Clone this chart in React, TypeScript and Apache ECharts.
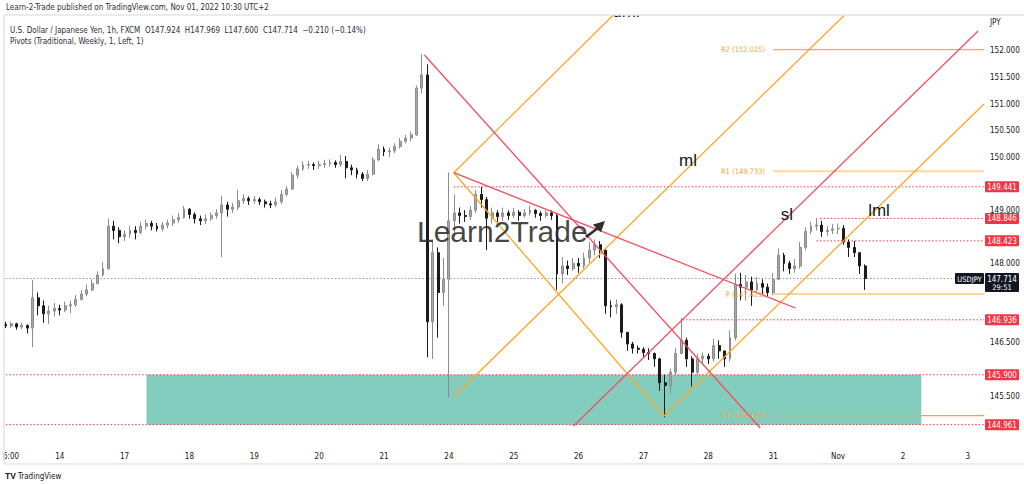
import React, { useEffect, useRef } from 'react';
import * as echarts from 'echarts';

// ---- Candles (2-hour bars, trading hours counted from Oct 13 00:00, weekends removed) ----
const startHour = 4;
const endHour = 366;
const barHours = 2;

const closes = [
  146.82, 146.86, 146.80, 146.83, 146.78, 147.35, 147.20, 147.05, 147.10, 147.15,
  147.12, 147.20, 147.22, 147.32, 147.42, 147.50, 147.62, 147.78, 147.90, 148.70,
  148.62, 148.50, 148.55, 148.62, 148.58, 148.70, 148.75, 148.70, 148.65, 148.72,
  148.76, 148.82, 148.86, 149.02, 148.92, 148.84, 148.80, 148.84, 148.90, 148.95,
  149.10, 149.02, 149.06, 149.18, 149.22, 149.18, 149.20, 149.16, 149.12, 149.10,
  149.16, 149.30, 149.40, 149.66, 149.78, 149.85, 149.86, 149.84, 149.86, 149.88,
  149.90, 149.86, 149.92, 149.80, 149.76, 149.68, 149.60, 149.68, 149.95, 150.15,
  150.10, 150.12, 150.20, 150.30, 150.36, 150.42, 151.30, 151.55, 146.90, 148.20,
  147.45, 147.70, 148.80, 148.95, 148.90, 148.88, 149.00, 149.30, 149.20, 148.85,
  148.95, 148.88, 148.95, 148.90, 148.96, 148.90, 148.95, 149.00, 148.94, 148.90,
  148.95, 148.90, 147.80, 147.95, 147.90, 148.00, 147.95, 148.10, 148.25, 148.35,
  148.25, 147.20, 147.18, 147.22, 146.70, 146.48, 146.40, 146.38, 146.32, 146.30,
  146.20, 145.75, 145.70, 145.95, 146.30, 146.55, 146.20, 145.95, 146.20, 146.25,
  146.20, 146.45, 146.35, 146.20, 146.60, 147.60, 147.55, 147.65, 147.50, 147.62,
  147.55, 147.45, 147.70, 148.15, 148.00, 147.90, 147.95, 148.30, 148.60, 148.70,
  148.72, 148.60, 148.62, 148.65, 148.66, 148.40, 148.30, 148.20, 147.95, 147.714,
];
const highs = [
  146.90, 146.90, 146.88, 146.88, 146.85, 147.69, 147.45, 147.30, 147.20, 147.25,
  147.22, 147.28, 147.30, 147.40, 147.50, 147.60, 147.70, 147.85, 148.02, 148.84,
  148.80, 148.68, 148.62, 148.70, 148.70, 148.78, 148.82, 148.80, 148.76, 148.78,
  148.82, 148.90, 148.95, 149.08, 149.04, 148.96, 148.90, 148.92, 148.96, 149.02,
  149.27, 149.16, 149.14, 149.38, 149.30, 149.26, 149.27, 149.24, 149.20, 149.18,
  149.24, 149.38, 149.46, 149.72, 149.84, 149.92, 149.93, 149.90, 149.93, 149.95,
  149.96, 149.94, 150.04, 150.02, 149.86, 149.80, 149.72, 149.76, 150.00, 150.24,
  150.20, 150.18, 150.26, 150.36, 150.42, 150.48, 151.35, 151.94, 151.75, 148.45,
  148.30, 148.10, 149.71, 149.30, 149.05, 149.00, 149.08, 149.38, 149.44, 149.25,
  149.05, 149.00, 149.05, 149.00, 149.04, 149.00, 149.02, 149.08, 149.02, 148.98,
  149.00, 149.00, 148.95, 148.12, 148.05, 148.10, 148.10, 148.20, 148.40, 148.45,
  148.42, 148.25, 147.30, 147.32, 147.25, 146.70, 146.52, 146.45, 146.42, 146.40,
  146.32, 146.22, 145.90, 146.02, 146.40, 146.97, 146.60, 146.25, 146.30, 146.32,
  146.30, 146.58, 146.55, 146.35, 146.74, 147.80, 147.82, 147.78, 147.75, 147.74,
  147.70, 147.62, 147.82, 148.28, 148.20, 148.05, 148.08, 148.40, 148.68, 148.78,
  148.85, 148.80, 148.70, 148.74, 148.75, 148.72, 148.45, 148.42, 148.20, 147.98,
];
const lows = [
  146.78, 146.78, 146.75, 146.76, 146.68, 146.42, 147.02, 146.88, 146.86, 147.00,
  147.02, 147.08, 147.06, 147.18, 147.30, 147.38, 147.48, 147.60, 147.75, 147.88,
  148.45, 148.38, 148.42, 148.48, 148.45, 148.55, 148.64, 148.62, 148.60, 148.60,
  148.66, 148.70, 148.76, 148.84, 148.84, 148.75, 148.72, 148.74, 148.80, 148.84,
  148.12, 148.88, 148.95, 149.00, 149.12, 149.10, 149.12, 149.10, 149.05, 149.04,
  149.06, 149.12, 149.26, 149.38, 149.60, 149.74, 149.78, 149.76, 149.78, 149.80,
  149.82, 149.80, 149.82, 149.60, 149.66, 149.60, 149.55, 149.55, 149.66, 149.92,
  150.02, 150.00, 150.08, 150.16, 150.26, 150.30, 150.40, 151.20, 146.23, 146.20,
  146.60, 147.20, 145.47, 148.50, 148.75, 148.78, 148.82, 148.95, 149.05, 148.25,
  148.75, 148.78, 148.80, 148.82, 148.85, 148.80, 148.86, 148.90, 148.86, 148.80,
  148.86, 148.82, 147.50, 147.62, 147.78, 147.86, 147.82, 147.90, 148.00, 148.15,
  148.10, 147.05, 146.98, 147.05, 146.60, 146.35, 146.30, 146.30, 146.22, 146.18,
  146.05, 145.60, 145.10, 145.55, 145.90, 146.30, 146.05, 145.68, 145.90, 146.12,
  146.10, 146.15, 146.20, 146.05, 146.15, 146.55, 147.30, 147.30, 147.20, 147.45,
  147.42, 147.38, 147.40, 147.68, 147.85, 147.80, 147.82, 147.90, 148.25, 148.55,
  148.62, 148.50, 148.52, 148.55, 148.55, 148.35, 148.12, 148.12, 147.80, 147.50,
];
const firstOpen = 146.85;

// ---- Time axis labels ----
const dayLabels = ['6:00', '14', '17', '18', '19', '20', '21', '24', '25', '26', '27', '28', '31', 'Nov', '2', '3'];
const dayLabelHours = [6, 24, 48, 72, 96, 120, 144, 168, 192, 216, 240, 264, 288, 312, 336, 360];

// ---- Price axis ----
const yMin = 144.5;
const yMax = 152.9608;
const yStep = 0.5;

// ---- Drawn trend lines: [startHour, startPrice, endHour, endPrice] ----
const orangeLines = [
  [169.8, 149.707, 230.7, 152.772], // uml
  [169.8, 145.487, 316.3, 152.772], // ml
  [247.5, 145.124, 366.0, 151.0],   // lml
  [169.8, 149.707, 247.5, 145.124],
];
const redLines = [
  [158.96, 151.925, 283.2, 144.898],
  [169.8, 149.707, 296.2, 147.158],
  [214.1, 144.935, 363.8, 152.377], // sl
];
const lineNames = ['uml', 'ml', 'sl', 'lml'];

// ---- Horizontal levels ----
const srLevels = [149.441, 148.846, 148.423, 146.936, 145.9, 144.961];
const srStartHours = [169.8, 305.4, 304.0, 254.4, 4, 4];
const pivotNames = ['R2', 'R1', 'P', 'S1'];
const pivotValues = [152.025, 149.733, 147.421, 145.129];
const pivotStartHour = 288;
const zone = [56.1, 145.9, 342.8, 144.961];
const lastPrice = 147.714;
const countdown = '29:51';

const narrow = "'Liberation Sans Narrow', 'DejaVu Sans Condensed', 'Liberation Sans', sans-serif";
const sans = "'Liberation Sans', Arial, sans-serif";

function coveredByBox(v: number) {
  if (v > lastPrice - 0.4 && v < lastPrice + 0.12) return true;
  return srLevels.some((s) => Math.abs(s - v) < 0.13);
}

function buildOption() {
  const n = (endHour - startHour) / barHours + 1;
  const categories: string[] = [];
  const labelMap: Record<number, string> = {};
  for (let i = 0; i < n; i++) categories.push('h' + (startHour + i * barHours));
  dayLabelHours.forEach((h, k) => {
    labelMap[Math.round((h - startHour) / barHours)] = dayLabels[k];
  });
  const candles = closes.map((c, i) => {
    const o = i === 0 ? firstOpen : closes[i - 1];
    return [o, c, Math.min(lows[i], o, c), Math.max(highs[i], o, c)];
  });

  const series: any[] = [];
  series.push({
    type: 'custom',
    xAxisIndex: 1,
    yAxisIndex: 0,
    z: 1,
    silent: true,
    data: [zone],
    encode: { x: [0, 2], y: [1, 3] },
    renderItem: (params: any, api: any) => {
      const p1 = api.coord([api.value(0), api.value(1)]);
      const p2 = api.coord([api.value(2), api.value(3)]);
      return {
        type: 'rect',
        shape: { x: p1[0], y: p1[1], width: p2[0] - p1[0], height: p2[1] - p1[1] },
        style: { fill: '#83cdbf' },
      };
    },
  });
  const seg = (d: number[], color: string, width: number, type: any, z: number) => ({
    type: 'line',
    xAxisIndex: 1,
    yAxisIndex: 0,
    silent: true,
    symbol: 'none',
    z,
    data: [[d[0], d[1]], [d[2], d[3]]],
    lineStyle: { color, width, type },
  });
  series.push(seg([startHour, lastPrice, endHour, lastPrice], '#9598a1', 1, [1.5, 2], 2));
  srLevels.forEach((v, k) => series.push(seg([srStartHours[k], v, endHour, v], '#f23645', 1, [1.5, 2], 2)));
  const pivotColors = ['#f8ab48', '#ffd7a0', '#ffc67a', '#f5a540'];
  const pivotWidths = [1.2, 2, 1.5, 1.2];
  pivotValues.forEach((v, k) => series.push(seg([pivotStartHour, v, endHour, v], pivotColors[k], pivotWidths[k], 'solid', 2)));
  series.push({
    type: 'candlestick',
    xAxisIndex: 0,
    yAxisIndex: 0,
    z: 3,
    silent: true,
    barWidth: 2.4,
    data: candles,
    itemStyle: {
      color: '#a8a8a8',
      color0: '#1b1b1b',
      borderColor: '#8c8c8c',
      borderColor0: '#1b1b1b',
      borderWidth: 1,
    },
  });
  orangeLines.forEach((d) => series.push(seg(d, '#ffa526', 1.3, 'solid', 4)));
  redLines.forEach((d) => series.push(seg(d, '#f0505f', 1.3, 'solid', 4)));

  return {
    animation: false,
    backgroundColor: '#ffffff',
    grid: { left: 5, right: 40, top: 0, bottom: 34.9, containLabel: false },
    xAxis: [
      {
        type: 'category',
        data: categories,
        boundaryGap: false,
        axisLine: { show: false },
        axisTick: { show: false },
        splitLine: { show: false },
        axisLabel: {
          interval: 0,
          margin: 3,
          fontSize: 8,
          color: '#131722',
          fontFamily: narrow,
          formatter: (_v: string, idx: number) => labelMap[idx] || '',
        },
      },
      { type: 'value', min: startHour, max: endHour, show: false },
    ],
    yAxis: {
      type: 'value',
      position: 'right',
      min: yMin,
      max: yMax,
      interval: yStep,
      axisLine: { show: false },
      axisTick: { show: false },
      splitLine: { show: false },
      axisLabel: {
        margin: 6,
        fontSize: 8,
        color: '#131722',
        fontFamily: narrow,
        formatter: (v: number) => (v > 152.2 || v < 144.7 || coveredByBox(v) ? '' : v.toFixed(3)),
      },
    },
    series,
  };
}

function text(x: number, y: number, t: string, size: number, fill: string, align: string, family: string, z: number, extra: any = {}) {
  return {
    type: 'text',
    x,
    y,
    z,
    silent: true,
    style: { text: t, fontSize: size, fill, textAlign: align, textVerticalAlign: 'middle', fontFamily: family, ...extra },
  };
}

export default function App() {
  const ref = useRef<HTMLDivElement>(null);
  useEffect(() => {
    const el = ref.current as HTMLDivElement;
    const chart = echarts.init(el, undefined, { renderer: 'svg', width: 1024, height: 484 });
    chart.setOption(buildOption() as any);
    const py = (v: number) => chart.convertToPixel({ yAxisIndex: 0 }, v) as unknown as number;
    const px = (h: number) => chart.convertToPixel({ xAxisIndex: 1 }, h) as unknown as number;

    const els: any[] = [];
    // line labels
    els.push(text(626, 11, lineNames[0], 17, '#131722', 'center', sans, 90));
    els.push(text(688, 160, lineNames[1], 17, '#131722', 'center', sans, 90));
    els.push(text(787, 214, lineNames[2], 17, '#131722', 'center', sans, 90));
    els.push(text(879, 210, lineNames[3], 17, '#131722', 'center', sans, 90));
    // watermark
    els.push(text(417, 231, 'Learn2Trade', 30, 'rgba(45,45,45,0.88)', 'left', sans, 60));
    els.push({
      type: 'polygon',
      z: 60,
      silent: true,
      shape: { points: [[585, 236], [596, 228], [593, 224.5], [605, 221], [601, 232], [598, 229.5], [587, 238]] },
      style: { fill: 'rgba(30,30,30,0.92)' },
    });
    // pivot labels
    pivotValues.forEach((v, k) => {
      els.push(text(px(pivotStartHour) - 8, py(v), `${pivotNames[k]} (${v.toFixed(3)})`, 7.5, '#f5a540', 'right', narrow, 5));
    });
    // cover above the pane
    els.push({ type: 'rect', z: 95, silent: true, shape: { x: 0, y: 0, width: 1024, height: 15 }, style: { fill: '#ffffff' } });
    // pane borders
    const border = { stroke: '#e3e5ea', lineWidth: 1.5 };
    els.push({ type: 'line', z: 96, silent: true, shape: { x1: 4, y1: 15, x2: 1024, y2: 15 }, style: border });
    els.push({ type: 'line', z: 96, silent: true, shape: { x1: 4, y1: 15, x2: 4, y2: 464 }, style: border });
    els.push({ type: 'line', z: 96, silent: true, shape: { x1: 4, y1: 464, x2: 1024, y2: 464 }, style: border });
    // header
    els.push(text(6, 7, 'Learn-2-Trade published on TradingView.com, Nov 01, 2022 10:30 UTC+2', 8, '#2a2e39', 'left', narrow, 97));
    els.push(text(10, 30, 'U.S. Dollar / Japanese Yen, 1h, FXCM  O147.924  H147.969  L147.600  C147.714  \u22120.210 (\u22120.14%)', 8, '#2a2e39', 'left', narrow, 97));
    els.push(text(10, 41, 'Pivots (Traditional, Weekly, 1, Left, 1)', 8, '#2a2e39', 'left', narrow, 97));
    els.push(text(990, 22, 'JPY', 8, '#131722', 'left', narrow, 97));
    // footer
    els.push(text(5, 476, 'TV', 8.5, '#131722', 'left', sans, 97, { fontWeight: 'bold' }));
    els.push(text(18, 476, 'TradingView', 8, '#131722', 'left', narrow, 97));
    // price boxes
    srLevels.forEach((v) => {
      const y = py(v);
      els.push({ type: 'rect', z: 110, silent: true, shape: { x: 985, y: y - 5.5, width: 34, height: 11, r: 1 }, style: { fill: '#f23645' } });
      els.push(text(1002, y + 0.5, v.toFixed(3), 8, '#ffffff', 'center', narrow, 111));
    });
    const yl = py(lastPrice);
    els.push({ type: 'rect', z: 110, silent: true, shape: { x: 955, y: yl - 5.5, width: 29, height: 11, r: 1 }, style: { fill: '#131722' } });
    els.push(text(969.5, yl + 0.5, 'USDJPY', 7.5, '#ffffff', 'center', narrow, 111));
    els.push({ type: 'rect', z: 110, silent: true, shape: { x: 985, y: yl - 5.5, width: 34, height: 19, r: 1 }, style: { fill: '#131722' } });
    els.push(text(1002, yl + 0.5, lastPrice.toFixed(3), 8, '#ffffff', 'center', narrow, 111));
    els.push(text(1002, yl + 8.5, countdown, 7.5, '#ffffff', 'center', narrow, 111));

    chart.setOption({ graphic: { elements: els } } as any);
    return () => chart.dispose();
  }, []);
  return <div ref={ref} style={{ position: 'fixed', left: 0, top: 0, width: 1024, height: 484, background: '#fff' }} />;
}
